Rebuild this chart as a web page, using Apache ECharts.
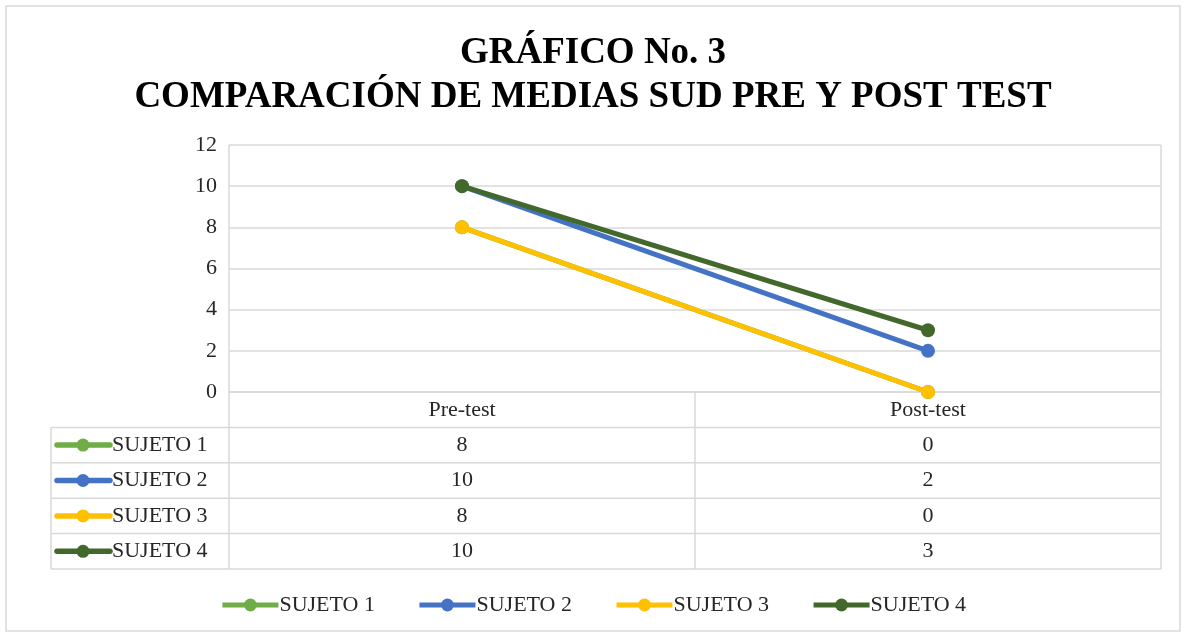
<!DOCTYPE html>
<html>
<head>
<meta charset="utf-8">
<script src="https://cdn.jsdelivr.net/npm/echarts@6/dist/echarts.min.js"></script>
<style>
html,body{margin:0;padding:0;background:#fff;}
#chart{width:1186px;height:637px;}
</style>
</head>
<body>
<div id="chart"></div>
<script>
// ---- data ----
var titleText = 'GRÁFICO No. 3\nCOMPARACIÓN DE MEDIAS SUD PRE Y POST TEST';
var categories = ['Pre-test', 'Post-test'];
var seriesNames = ['SUJETO 1', 'SUJETO 2', 'SUJETO 3', 'SUJETO 4'];
var sujeto1 = [8, 0];
var sujeto2 = [10, 2];
var sujeto3 = [8, 0];
var sujeto4 = [10, 3];
var yTicks = [0, 2, 4, 6, 8, 10, 12];

// ---- style ----
var colors = ['#70AD47', '#4472C4', '#FFC000', '#43682B'];
var FONT = 'Liberation Serif';
var TXT = '#262626';
var GRIDC = '#D9D9D9';
var FS = 22;
var G = {left: 229, right: 1161, top: 145, bottom: 392};
var rowH = 35.4;

var allData = [sujeto1, sujeto2, sujeto3, sujeto4];

var chart = echarts.init(document.getElementById('chart'));

var series = seriesNames.map(function (n, i) {
  return {
    name: n,
    type: 'line',
    data: allData[i],
    symbol: 'circle',
    symbolSize: 14,
    lineStyle: {width: 5, color: colors[i]},
    itemStyle: {color: colors[i]},
    z: 2 + i
  };
});

chart.setOption({
  animation: false,
  backgroundColor: '#fff',
  title: {
    text: titleText,
    left: 'center',
    top: 26,
    textStyle: {fontFamily: FONT, fontWeight: 'bold', fontSize: 37, lineHeight: 44, color: '#000'}
  },
  grid: {left: G.left, right: 1186 - G.right, top: G.top, bottom: 637 - G.bottom, containLabel: false},
  xAxis: {
    type: 'category',
    data: categories,
    boundaryGap: true,
    axisLine: {show: true, lineStyle: {color: GRIDC, width: 1.5}},
    axisTick: {show: false},
    axisLabel: {fontFamily: FONT, fontSize: FS, color: TXT, margin: 7}
  },
  yAxis: {
    type: 'value',
    min: yTicks[0],
    max: yTicks[yTicks.length - 1],
    interval: yTicks[1] - yTicks[0],
    axisLine: {show: false},
    axisTick: {show: false},
    axisLabel: {fontFamily: FONT, fontSize: FS, color: TXT, margin: 12},
    splitLine: {show: true, lineStyle: {color: GRIDC, width: 1.5}}
  },
  legend: {
    bottom: 16,
    left: 'center',
    itemWidth: 56,
    itemHeight: 16,
    itemGap: 42,
    lineStyle: {width: 5},
    textStyle: {fontFamily: FONT, fontSize: FS, color: TXT, padding: [0, 0, 0, -4]},
    data: seriesNames
  },
  series: series
});

// ---- data table built from the arrays, positioned via the axis scale ----
var colX = categories.map(function (c) { return chart.convertToPixel({xAxisIndex: 0}, c); });
var midX = (colX[0] + colX[1]) / 2;
var tableLeft = 51;
var tableBottom = G.bottom + rowH * (seriesNames.length + 1);
var els = [];
function line(x1, y1, x2, y2) {
  els.push({type: 'line', silent: true, z: 1,
    shape: {x1: x1, y1: y1, x2: x2, y2: y2},
    style: {stroke: GRIDC, lineWidth: 1.5}});
}
// outer frame of chart
els.push({type: 'rect', silent: true, z: 0,
  shape: {x: 6, y: 6, width: 1174, height: 625},
  style: {fill: null, stroke: GRIDC, lineWidth: 1.5}});
// verticals
line(G.left, G.top, G.left, tableBottom);
line(G.right, G.top, G.right, tableBottom);
line(midX, G.bottom, midX, tableBottom);
line(tableLeft, G.bottom + rowH, tableLeft, tableBottom);
// horizontals
for (var r = 1; r <= seriesNames.length + 1; r++) {
  var y = G.bottom + rowH * r;
  line(tableLeft, y, G.right, y);
}
// rows
seriesNames.forEach(function (n, i) {
  var cy = G.bottom + rowH * (i + 1.5);
  els.push({type: 'line', silent: true, z: 3,
    shape: {x1: 57, y1: cy, x2: 110, y2: cy},
    style: {stroke: colors[i], lineWidth: 5.5, lineCap: 'round'}});
  els.push({type: 'circle', silent: true, z: 4,
    shape: {cx: 83, cy: cy, r: 6.5},
    style: {fill: colors[i]}});
  els.push({type: 'text', silent: true, z: 4,
    x: 112, y: cy,
    style: {text: n, font: FS + 'px "' + FONT + '"', fill: TXT, textVerticalAlign: 'middle', verticalAlign: 'middle'}});
  allData[i].forEach(function (v, j) {
    els.push({type: 'text', silent: true, z: 4,
      x: colX[j], y: cy,
      style: {text: String(v), font: FS + 'px "' + FONT + '"', fill: TXT, align: 'center', textAlign: 'center', verticalAlign: 'middle', textVerticalAlign: 'middle'}});
  });
});
chart.setOption({graphic: {elements: els}});
</script>
</body>
</html>
